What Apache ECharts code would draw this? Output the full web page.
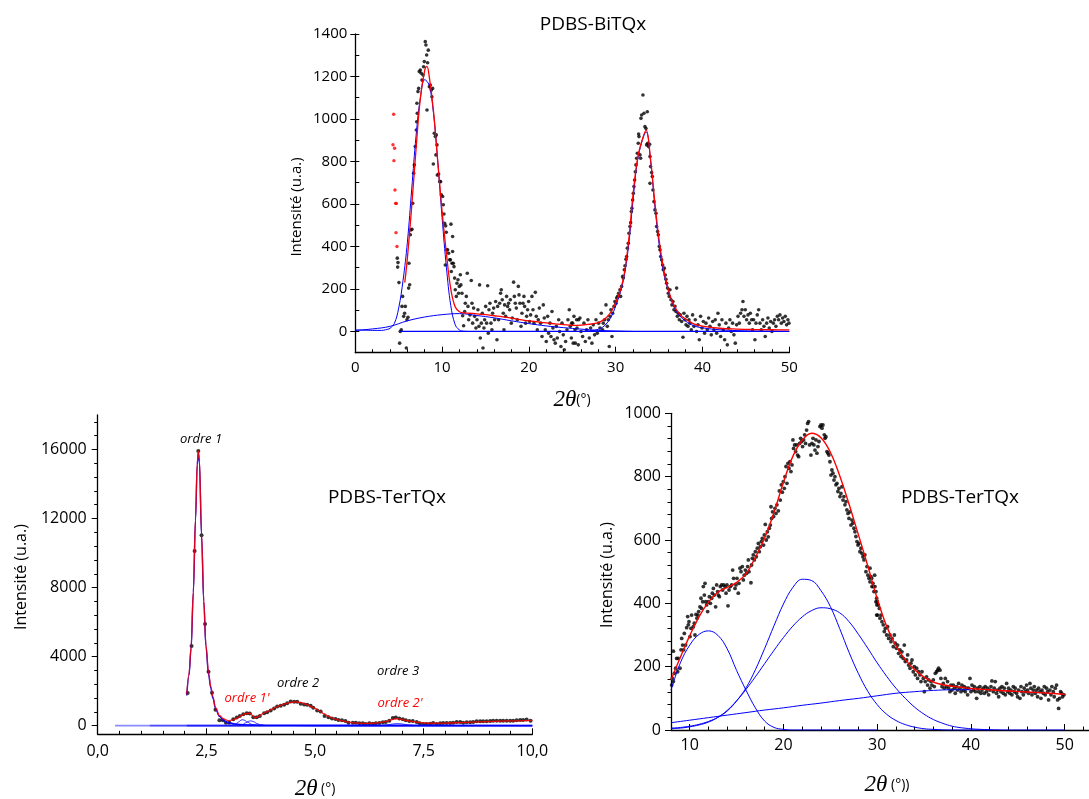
<!DOCTYPE html>
<html><head><meta charset="utf-8">
<script src="https://cdn.jsdelivr.net/npm/echarts@6/dist/echarts.min.js"></script>
<style>html,body{margin:0;padding:0;background:#fff}#c{width:1089px;height:799px}</style>
</head><body><div id="c"></div>
<script>
// ---------- Top panel: PDBS-BiTQx ----------
const biXTicks = [0, 10, 20, 30, 40, 50];
const biYTicks = [0, 200, 400, 600, 800, 1000, 1200, 1400];
const biRedPts = [[4.42,1022],[4.34,879],[4.53,862],[4.45,804],[4.57,666],[4.65,603],[4.72,602],[4.69,465],[4.80,400]];
const biPts = [[4.84,345],[4.92,324],[4.88,303],[5.03,230],[5.11,-55],[5.18,0],[5.30,8],[5.38,118],[5.45,165],[5.57,71],[5.68,86],[5.76,118],[5.88,-78],[5.95,55],[6.07,67],[6.14,204],[6.18,321],[6.26,220],[6.34,455],[6.41,478],[6.53,481],[6.61,603],[6.72,745],[6.80,784],[6.91,870],[7.03,948],[7.07,987],[7.14,1027],[7.10,1074],[7.22,1129],[7.30,1144],[7.37,1223],[7.49,1230],[7.60,1215],[7.68,1183],[7.80,1207],[7.87,1246],[7.95,1270],[8.06,1364],[8.14,1348],[8.22,1301],[8.33,1265],[8.41,1324],[8.26,1042],[8.53,1152],[8.64,1160],[8.76,1136],[8.83,1105],[8.91,1144],[8.99,788],[9.10,933],[9.22,917],[9.33,925],[9.41,878],[9.29,831],[9.45,736],[9.60,741],[9.72,705],[9.83,705],[9.91,643],[10.06,635],[10.14,596],[10.21,553],[10.29,509],[10.41,497],[10.48,467],[10.52,384],[10.64,384],[10.37,313],[10.75,368],[10.87,337],[10.95,337],[11.02,505],[11.21,447],[11.21,376],[11.14,321],[11.29,321],[11.06,282],[11.37,305],[11.44,251],[11.52,196],[11.64,165],[11.71,227],[11.83,243],[11.90,180],[11.98,212],[12.10,267],[12.17,219],[12.29,180],[12.37,74],[12.48,27],[12.60,94],[12.67,133],[12.79,165],[12.90,274],[12.98,118],[13.06,55],[13.21,78],[13.36,240],[13.44,133],[13.52,39],[13.63,110],[13.75,71],[13.90,16],[14.02,55],[14.13,102],[14.25,24],[14.32,219],[14.40,-31],[14.52,39],[14.63,86],[14.71,-78],[14.82,16],[14.90,55],[15.02,118],[15.13,39],[15.25,215],[15.32,-8],[15.40,102],[15.51,133],[15.63,39],[15.74,8],[15.82,86],[15.94,110],[16.05,55],[16.17,141],[16.32,-39],[16.40,118],[16.51,55],[16.63,133],[16.74,180],[16.82,196],[16.93,149],[17.05,86],[17.13,8],[17.20,125],[17.32,71],[17.43,165],[17.55,118],[17.66,133],[17.78,102],[17.86,149],[17.97,39],[18.09,63],[18.24,232],[18.32,165],[18.43,133],[18.55,110],[18.66,55],[18.78,212],[18.86,172],[18.97,133],[19.09,24],[19.20,86],[19.32,133],[19.43,165],[19.51,118],[19.62,39],[19.74,71],[19.85,102],[19.97,141],[20.08,47],[20.20,78],[20.35,165],[20.47,102],[20.58,39],[20.74,184],[20.85,71],[20.97,8],[21.08,55],[21.20,110],[21.35,39],[21.51,-24],[21.66,125],[21.77,63],[21.89,8],[22.00,-47],[22.16,71],[22.27,-8],[22.43,39],[22.54,-24],[22.66,94],[22.77,16],[22.89,-39],[23.04,-55],[23.16,24],[23.27,-31],[23.43,55],[23.54,0],[23.69,-71],[23.81,39],[23.96,-16],[24.08,-86],[24.23,-47],[24.39,8],[24.50,55],[24.65,102],[24.77,24],[24.89,-31],[25.04,39],[25.19,71],[25.35,-55],[25.54,16],[25.73,55],
[24.92,39],[25.11,-55],[25.31,8],[25.5,55],[25.69,-63],[25.88,63],[26.0,0],[26.19,-24],[26.34,39],[26.5,-47],[26.65,8],[26.8,55],[26.96,-31],[27.11,16],[27.26,-55],[27.42,31],[27.57,-16],[27.73,55],[27.88,-8],[28.03,39],[28.19,16],[28.34,86],[28.49,8],[28.57,39],[28.72,55],[28.88,125],[29.03,24],[29.15,55],[29.26,-71],[29.34,71],[29.45,102],[29.57,-24],[29.65,86],[29.8,118],[29.91,141],[30.03,133],[30.11,157],[30.22,165],[30.34,180],[30.49,196],[30.57,165],[30.68,212],[30.8,259],[30.87,251],[30.99,290],[31.07,309],[31.18,340],[31.26,353],[31.34,392],[31.45,415],[31.53,462],[31.64,494],[31.72,512],[31.8,564],[31.87,580],[31.95,619],[32.03,650],[32.1,682],[32.18,713],[32.26,752],[32.33,784],[32.41,815],[32.49,839],[32.6,886],[32.68,917],[32.64,929],[32.8,831],[32.87,815],[32.91,1003],[32.99,1019],[33.14,1113],[33.26,1027],[33.37,964],[33.49,955],[33.64,1034],[33.56,878],[33.68,886],[33.79,870],[33.91,881],[33.95,823],[34.02,776],[34.14,748],[34.22,729],[33.95,697],[34.29,666],[34.41,611],[34.52,572],[34.64,556],[34.71,494],[34.83,470],[34.91,455],[35.02,400],[35.1,384],[35.18,353],[35.29,337],[35.41,313],[35.48,290],[35.6,298],[35.71,266],[35.79,246],[35.87,227],[35.98,204],[36.06,180],[36.17,165],[36.25,196],[36.37,149],[36.48,125],[36.6,141],[36.71,102],[36.83,118],[36.94,94],[37.02,204],[37.1,71],[37.21,86],[37.33,55],[37.44,78],[37.6,47],[37.75,-27],[37.86,86],[37.98,55],[38.1,31],[38.21,71],[38.33,24],[38.44,55],[38.56,39],[38.71,8],[38.86,78],[39.02,24],[39.17,55],[39.32,0],[39.48,31],[39.63,-39],[39.78,71],[39.94,16],[40.09,47],[40.24,-8],[40.4,39],[40.55,8],[40.71,63],[40.86,24],[41.01,-16],[41.17,47],[41.32,8],[41.47,55],[41.63,-8],[41.78,86],[41.93,31],[42.09,-24],[42.24,55],[42.4,8],[42.55,-39],[42.7,39],[42.86,-63],[43.01,16],[43.16,55],[43.32,0],[43.47,39],[43.62,-16],[43.78,-55],[43.93,31],[44.09,71],[44.24,39],[44.39,86],[44.55,102],[44.66,141],[44.78,71],[44.93,102],[45.08,55],[45.24,78],[45.39,39],[45.51,86],[45.66,55],[45.77,8],[45.89,55],[46.04,-39],[46.16,39],[46.31,78],[46.47,102],[46.62,39],[46.77,8],[46.93,55],[47.08,24],[47.23,-24],[47.39,39],[47.54,63],[47.69,16],[47.85,47],[48.0,0],[48.16,39],[48.31,55],[48.46,24],[48.62,71],[48.77,55],[48.92,78],[49.08,39],[49.23,63],[49.38,47],[49.54,71],[49.69,31],[49.84,55],[49.96,39]];
const biFit = [[5.7,230],[6.0,345],[6.5,590],[7.0,860],[7.5,1100],[8.0,1230],[8.25,1248],[8.5,1205],[9.0,1040],[9.5,800],[10.0,565],[10.5,365],[11.0,200],[11.5,116],[12.0,93],[12.5,87],[13,86],[14,83],[15,79],[16,74],[17,69],[18,63],[19,56],[20,50],[21,45],[22,40],[23,36],[24,32],[25,29],[26,30],[27,34],[27.5,37],[28,42],[28.5,52],[29,68],[29.5,95],[30,135],[30.5,188],[31,275],[31.5,430],[32,645],[32.5,810],[33,895],[33.5,948],[34,815],[34.5,610],[35,430],[35.5,298],[36,205],[36.5,142],[37,102],[37.5,75],[38,60],[39,36],[40,25],[42,15],[44,11],[46,9],[48,8],[50,7]];
const biPeak1 = [[0,7],[1,6],[2,5],[3,5],[3.5,8],[4,15],[4.5,38],[5,110],[5.5,240],[6,420],[6.5,670],[7,920],[7.5,1100],[8,1185],[8.5,1160],[9,1030],[9.5,800],[10,535],[10.5,300],[11,122],[11.5,33],[12,7],[12.5,1],[13,0]];
const biBroad = [[0,5],[2,12],[4,24],[6,50],[8,68],[10,79],[12,84],[14,75],[16,64],[18,50],[20,37],[22,26],[24,18],[26,11],[28,5],[30,2],[32,0]];
const biPeak2 = [[26,0],[27,3],[28,10],[28.5,20],[29,40],[29.5,70],[30,120],[30.5,180],[31,265],[31.5,410],[32,620],[32.5,800],[33,890],[33.5,940],[34,810],[34.5,595],[35,410],[35.5,282],[36,200],[36.5,140],[37,95],[37.5,68],[38,50],[39,27],[40,17],[42,8],[44,4],[46,2],[50,0]];
const biZero = [[5.2,0],[50,0]];

// ---------- Bottom-left panel: PDBS-TerTQx (small angles) ----------
const tlXTicks = [0, 2.5, 5, 7.5, 10];
const tlYTicks = [0, 4000, 8000, 12000, 16000];
const tlPts = [[2.07,1890],[2.16,4613],[2.23,10120],[2.315,15920],[2.39,11030],[2.47,5890],[2.55,3130],[2.63,1910],[2.71,916],[2.80,312],[2.88,312],[2.95,175],[3.03,175],[3.12,370],[3.20,468],[3.27,565],[3.35,663],[3.43,721],[3.50,700],[3.58,487],[3.66,487],[3.73,565],[3.83,721],[3.90,780],[3.98,877],[4.06,994],[4.13,1111],[4.21,1150],[4.29,1208],[4.36,1306],[4.44,1403],[4.52,1384],[4.59,1384],[4.67,1267],[4.75,1228],[4.82,1208],[4.90,1150],[4.96,1033],[5.05,877],[5.13,818],[5.22,565],[5.31,487],[5.39,409],[5.47,390],[5.54,331],[5.62,312],[5.70,273],[5.77,175],[5.87,175],[5.94,175],[6.02,136],[6.10,136],[6.17,97],[6.25,136],[6.33,117],[6.40,136],[6.48,156],[6.56,195],[6.63,214],[6.71,292],[6.79,448],[6.86,468],[6.94,409],[7.02,370],[7.09,312],[7.17,273],[7.25,273],[7.34,214],[7.41,136],[7.49,97],[7.57,97],[7.65,117],[7.72,156],[7.80,97],[7.88,136],[7.95,156],[8.03,156],[8.11,156],[8.18,175],[8.26,214],[8.34,214],[8.41,175],[8.49,195],[8.57,195],[8.64,214],[8.72,253],[8.80,253],[8.87,253],[8.95,253],[9.03,273],[9.10,292],[9.18,292],[9.26,292],[9.33,292],[9.41,292],[9.49,292],[9.56,292],[9.64,312],[9.72,331],[9.79,331],[9.87,351],[9.96,292]];
const tlFit = [[2.05,1800],[2.1,3000],[2.15,4600],[2.2,7800],[2.25,12000],[2.29,15200],[2.315,15900],[2.34,15400],[2.39,11100],[2.44,7300],[2.49,4700],[2.55,3100],[2.6,2300],[2.65,1700],[2.71,1050],[2.8,600],[2.9,390],[3.0,290],[3.1,320],[3.2,430],[3.3,580],[3.4,690],[3.5,720],[3.56,600],[3.62,450],[3.7,540],[3.8,700],[3.9,820],[4.0,940],[4.1,1070],[4.2,1180],[4.3,1260],[4.4,1330],[4.5,1370],[4.6,1370],[4.7,1320],[4.8,1230],[4.9,1120],[5.0,1000],[5.1,860],[5.2,700],[5.3,560],[5.4,440],[5.5,360],[5.6,290],[5.7,240],[5.8,200],[5.9,165],[6.0,145],[6.2,130],[6.4,150],[6.6,220],[6.75,340],[6.87,410],[6.97,380],[7.1,300],[7.3,220],[7.5,160],[7.7,140],[8.0,150],[8.5,190],[9.0,240],[9.5,280],[10.0,310]];
const tlPeak = [[2.05,1750],[2.1,2900],[2.15,4500],[2.2,7700],[2.25,11900],[2.29,15100],[2.315,15800],[2.34,15300],[2.39,11000],[2.44,7200],[2.49,4600],[2.55,3000],[2.6,2200],[2.65,1600],[2.71,1000],[2.8,540],[2.9,300],[3.0,170],[3.2,80],[3.5,40],[4,20],[5,10],[10,0]];
const tlBump1 = [[3.05,0],[3.15,60],[3.22,170],[3.28,290],[3.32,350],[3.37,320],[3.45,200],[3.55,70],[3.65,10],[3.75,0]];
const tlBump2 = [[3.25,0],[3.33,60],[3.4,160],[3.47,250],[3.52,280],[3.58,240],[3.66,130],[3.75,40],[3.85,0]];
const tlBump3 = [[6.5,0],[6.65,40],[6.8,100],[6.9,120],[7.0,100],[7.15,40],[7.3,0]];
const tlBaseA = [[0.4,0],[10,0]];
const tlBaseB = [[1.2,0],[10,0]];
const tlBaseC = [[2.05,0],[10,0]];

// ---------- Bottom-right panel: PDBS-TerTQx (wide angles) ----------
const trXTicks = [10, 20, 30, 40, 50];
const trYTicks = [0, 200, 400, 600, 800, 1000];
const trPts = [[8.07,142],[8.14,163],[8.25,153],[8.36,179],[8.25,249],[8.5,195],[8.6,226],[8.71,184],[8.78,226],[8.96,195],[9.07,253],[9.14,289],[9.24,268],[9.35,253],[9.42,305],[9.56,268],[9.67,323],[9.78,358],[9.85,332],[9.92,342],[10.03,295],[10.13,321],[10.2,363],[10.38,326],[10.49,337],[10.56,300],[10.67,365],[10.77,353],[10.88,363],[10.95,374],[11.09,389],[11.2,416],[11.27,384],[11.38,405],[11.45,453],[11.56,426],[11.63,463],[11.7,405],[11.8,395],[11.91,374],[11.98,405],[12.09,421],[12.2,400],[12.34,416],[12.41,432],[12.52,447],[12.62,426],[12.76,389],[12.87,458],[12.98,437],[13.05,426],[13.16,421],[13.26,453],[13.4,458],[13.51,442],[13.62,458],[13.76,453],[13.87,432],[13.97,458],[14.08,392],[14.19,442],[14.33,453],[14.47,458],[14.58,505],[14.68,479],[14.83,447],[14.93,458],[15.04,479],[15.18,432],[15.25,463],[15.36,511],[15.47,500],[15.61,516],[15.72,474],[15.82,489],[15.93,505],[16.07,495],[16.18,516],[16.25,537],[16.32,500],[16.53,465],[16.6,521],[16.68,542],[16.78,553],[16.89,537],[17.0,563],[17.1,547],[17.21,574],[17.32,589],[17.42,563],[17.53,579],[17.64,595],[17.74,605],[17.88,584],[17.96,616],[18.06,649],[18.17,600],[18.28,626],[18.38,610],[18.49,637],[18.6,647],[18.67,705],[18.74,668],[18.84,689],[18.95,674],[19.09,700],[19.2,684],[19.3,711],[19.45,692],[19.56,755],[19.66,726],[19.77,774],[19.88,751],[19.98,784],[20.09,763],[20.16,800],[20.27,832],[20.37,779],[20.48,842],[20.59,826],[20.69,847],[20.8,816],[20.91,837],[21.01,916],[21.08,889],[21.19,900],[21.3,879],[21.4,900],[21.51,868],[21.62,863],[21.72,905],[21.83,921],[21.94,911],[22.04,895],[22.15,916],[22.26,932],[22.36,905],[22.47,947],[22.58,968],[22.68,974],[22.79,900],[22.93,868],[23.04,905],[23.15,921],[23.25,900],[23.36,884],[23.47,916],[23.57,874],[23.68,895],[23.79,911],[23.89,958],[24.0,963],[24.11,953],[24.21,963],[24.36,932],[24.43,921],[24.53,926],[24.64,879],[24.75,874],[24.85,868],[24.96,847],[25.07,805],[25.17,821],[25.28,811],[25.39,789],[25.49,800],[25.6,774],[25.71,779],[25.81,753],[25.92,763],[26.03,737],[26.13,747],[26.24,768],[26.35,726],[26.45,737],[26.56,711],[26.67,721],[26.77,695],[26.88,684],[26.99,668],[27.09,689],[27.2,647],[27.31,663],[27.41,653],[27.52,637],[27.63,626],[27.73,611],[27.84,595],[27.95,584],[28.05,589],[28.16,563],[28.27,574],[28.37,558],[28.48,547],[28.59,537],[28.69,553],[28.8,500],[28.91,516],[29.01,489],[29.12,479],[29.23,468],[29.33,484],[29.44,453],[29.55,463],[29.65,437],[29.76,453],[29.87,405],[29.97,395],[30.04,363],
[29.23,511],[29.41,479],[29.59,453],[29.73,489],[29.87,437],[29.94,416],[30.01,405],[30.12,395],[30.23,384],[29.94,363],[30.3,353],[30.4,363],[30.51,342],[30.65,332],[30.76,311],[30.87,321],[31.01,300],[31.11,326],[31.22,289],[31.36,300],[31.47,279],[31.58,289],[31.72,263],[31.83,300],[31.93,274],[32.07,258],[32.18,268],[32.29,242],[32.43,253],[32.54,232],[32.64,247],[32.79,226],[32.89,268],[33.0,216],[33.14,221],[33.25,237],[33.35,205],[33.5,195],[33.6,211],[33.71,221],[33.85,184],[33.96,200],[34.07,174],[34.21,195],[34.31,163],[34.42,184],[34.56,174],[34.67,153],[34.78,184],[34.92,163],[35.03,121],[35.13,153],[35.27,168],[35.38,142],[35.49,158],[35.63,132],[35.74,153],[35.84,142],[35.99,158],[36.09,137],[36.2,179],[36.34,184],[36.45,189],[36.55,195],[36.7,189],[36.8,163],[36.91,137],[37.05,147],[37.16,132],[37.27,163],[37.41,137],[37.51,153],[37.62,132],[37.76,121],[37.87,142],[37.98,126],[38.12,142],[38.23,132],[38.33,116],[38.47,137],[38.58,126],[38.69,147],[38.83,132],[38.94,121],[39.04,142],[39.19,126],[39.29,137],[39.4,121],[39.54,132],[39.65,111],[39.75,132],[39.9,163],[40.0,121],[40.11,142],[40.25,126],[40.36,137],[40.47,121],[40.61,100],[40.71,132],[40.82,121],[40.96,137],[41.07,116],[41.18,126],[41.32,132],[41.43,116],[41.53,137],[41.68,121],[41.78,132],[41.89,111],[42.03,126],[42.14,137],[42.24,155],[42.39,121],[42.49,132],[42.6,153],[42.74,116],[42.85,126],[42.96,105],[43.1,132],[43.2,121],[43.31,137],[43.45,116],[43.56,132],[43.67,111],[43.81,147],[43.91,121],[44.02,132],[44.16,116],[44.27,126],[44.38,111],[44.52,137],[44.63,121],[44.73,132],[44.87,116],[44.98,105],[45.09,126],[45.23,100],[45.34,137],[45.44,121],[45.59,111],[45.69,132],[45.8,121],[45.94,142],[46.05,126],[46.15,116],[46.3,147],[46.4,132],[46.51,111],[46.65,126],[46.76,137],[46.87,116],[47.01,126],[47.11,105],[47.22,132],[47.36,121],[47.47,100],[47.58,126],[47.72,116],[47.83,137],[47.93,111],[48.07,132],[48.18,121],[48.29,95],[48.43,126],[48.54,111],[48.64,137],[48.79,121],[48.89,105],[49.0,132],[49.14,142],[49.25,95],[49.36,68],[49.46,100],[49.57,121],[49.68,116],[49.78,105],[49.93,111]];
const trFit = [[8,158],[9,230],[10,298],[11,358],[12,404],[13,435],[14,450],[15,466],[16,493],[17,545],[18,607],[19,688],[20,782],[21,864],[22,915],[23,937],[24,923],[25,877],[26,803],[27,713],[28,616],[29,518],[30,415],[31,328],[32,266],[33,222],[34,190],[35,167],[36,151],[37,143],[38,138],[39,135],[40,131],[42,127],[44,123],[46,120],[48,117],[50,113]];
const trG1 = [[8,126],[9,212],[10,268],[11,302],[12,313],[13,299],[14,256],[15,188],[16,126],[17,70],[18,28],[19,8],[20,2],[21,0],[22,0],[30,0]];
const trG2 = [[8,6],[9,8],[10,12],[11,18],[12,27],[13,40],[14,60],[15,92],[16,133],[17,190],[18,258],[19,330],[20,398],[21,450],[22,476],[23,472],[24,440],[25,390],[26,320],[27,245],[28,178],[29,122],[30,80],[31,50],[32,30],[33,17],[34,9],[35,4],[36,2],[38,0],[42,0]];
const trG3 = [[8,4],[9,6],[10,10],[11,16],[12,25],[13,40],[14,62],[15,92],[16,128],[17,168],[18,210],[19,252],[20,292],[21,328],[22,357],[23,377],[24,386],[25,383],[26,370],[27,342],[28,302],[29,258],[30,212],[31,170],[32,132],[33,100],[34,72],[35,50],[36,33],[37,21],[38,12],[39,7],[40,4],[41,2],[42,1],[44,0],[50,0]];
const trBase = [[8,23],[10,31],[12,39],[14,47],[16,55],[18,63],[20,70],[22,78],[24,85],[26,93],[28,100],[30,108],[32,116],[34,121],[36,125],[38,127],[40,127]];

// ---------- chart ----------
const FONT = "'Open Sans', 'Noto Sans', sans-serif";
const BLACK = '#000';
const BLUE = '#0000ff';
const RED = '#ff0000';
const lineAx = { onZero: false, lineStyle: { color: BLACK, width: 1.3 } };
const noSplit = { show: false };
const plain = v => String(v);

function range(a, b, s) { const r = []; for (let v = a; v <= b + 1e-9; v += s) r.push(+v.toFixed(6)); return r; }

const chart = echarts.init(document.getElementById('c'), null, { renderer: 'canvas' });

function lineSeries(data, xi, color, width, extra) {
  return Object.assign({
    type: 'line', xAxisIndex: xi, yAxisIndex: xi, data: data,
    showSymbol: false, symbol: 'none', smooth: 0.4,
    lineStyle: { color: color, width: width }, silent: true, z: 3
  }, extra || {});
}
function scatterSeries(data, xi, color, size) {
  return { type: 'scatter', xAxisIndex: xi, yAxisIndex: xi, data: data, symbolSize: size,
    itemStyle: { color: color }, silent: true, z: 2 };
}
const sharp = { smooth: 0.35, smoothMonotone: 'x' };

const option = {
  animation: false,
  backgroundColor: '#fff',
  grid: [
    { left: 355.3, top: 34, width: 434, height: 318.7 },
    { left: 97.7, top: 415, width: 434.6, height: 319.3 },
    { left: 671, top: 413.3, width: 418.1, height: 316.7 }
  ],
  xAxis: [
    { gridIndex: 0, type: 'value', position: 'bottom', min: 0, max: 50,
      axisLine: lineAx, splitLine: noSplit,
      axisTick: { inside: true, length: 6, customValues: biXTicks, lineStyle: { color: BLACK } },
      axisLabel: { customValues: biXTicks, color: BLACK, fontSize: 15, fontFamily: FONT, margin: 8, formatter: plain } },
    { gridIndex: 1, type: 'value', position: 'bottom', min: 0, max: 10,
      axisLine: lineAx, splitLine: noSplit,
      axisTick: { inside: true, length: 6, customValues: tlXTicks, lineStyle: { color: BLACK } },
      axisLabel: { customValues: tlXTicks, color: BLACK, fontSize: 16, fontFamily: FONT, margin: 9,
        formatter: v => v.toFixed(1).replace('.', ',') } },
    { gridIndex: 2, type: 'value', position: 'bottom', min: 8, max: 52.6,
      axisLine: lineAx, splitLine: noSplit,
      axisTick: { inside: true, length: 6, customValues: trXTicks, lineStyle: { color: BLACK } },
      axisLabel: { customValues: trXTicks, color: BLACK, fontSize: 16, fontFamily: FONT, margin: 7, formatter: plain } },
    { gridIndex: 0, type: 'value', position: 'bottom', min: 0, max: 50, axisLine: { show: false, onZero: false },
      splitLine: noSplit, axisLabel: { show: false },
      axisTick: { show: true, inside: true, length: 3.5, customValues: range(0, 50, 2), lineStyle: { color: BLACK } } },
    { gridIndex: 1, type: 'value', position: 'bottom', min: 0, max: 10, axisLine: { show: false, onZero: false },
      splitLine: noSplit, axisLabel: { show: false },
      axisTick: { show: true, inside: true, length: 3.5, customValues: range(0, 10, 0.5), lineStyle: { color: BLACK } } },
    { gridIndex: 2, type: 'value', position: 'bottom', min: 8, max: 52.6, axisLine: { show: false, onZero: false },
      splitLine: noSplit, axisLabel: { show: false },
      axisTick: { show: true, inside: true, length: 3.5, customValues: range(8, 52, 2), lineStyle: { color: BLACK } } }
  ],
  yAxis: [
    { gridIndex: 0, type: 'value', position: 'left', min: -100, max: 1400,
      axisLine: lineAx, splitLine: noSplit,
      axisTick: { inside: false, length: 5, customValues: biYTicks, lineStyle: { color: BLACK } },
      axisLabel: { customValues: biYTicks, color: BLACK, fontSize: 15, fontFamily: FONT, margin: 8, formatter: plain } },
    { gridIndex: 1, type: 'value', position: 'left', min: -500, max: 18000,
      axisLine: lineAx, splitLine: noSplit,
      axisTick: { inside: false, length: 6, customValues: tlYTicks, lineStyle: { color: BLACK } },
      axisLabel: { customValues: tlYTicks, color: BLACK, fontSize: 16, fontFamily: FONT, margin: 11, formatter: plain } },
    { gridIndex: 2, type: 'value', position: 'left', min: 0, max: 1000,
      axisLine: lineAx, splitLine: noSplit,
      axisTick: { inside: false, length: 6, customValues: trYTicks, lineStyle: { color: BLACK } },
      axisLabel: { customValues: trYTicks, color: BLACK, fontSize: 16, fontFamily: FONT, margin: 10, formatter: plain } },
    { gridIndex: 0, type: 'value', position: 'left', min: -100, max: 1400, axisLine: { show: false, onZero: false },
      splitLine: noSplit, axisLabel: { show: false },
      axisTick: { show: true, inside: true, length: 4, customValues: range(-100, 1400, 100), lineStyle: { color: BLACK } } },
    { gridIndex: 1, type: 'value', position: 'left', min: -500, max: 18000, axisLine: { show: false, onZero: false },
      splitLine: noSplit, axisLabel: { show: false },
      axisTick: { show: true, inside: false, length: 3.5, customValues: range(0, 17600, 800), lineStyle: { color: BLACK } } },
    { gridIndex: 2, type: 'value', position: 'left', min: 0, max: 1000, axisLine: { show: false, onZero: false },
      splitLine: noSplit, axisLabel: { show: false },
      axisTick: { show: true, inside: false, length: 3.5, customValues: range(0, 1000, 40), lineStyle: { color: BLACK } } }
  ],
  series: [
    // top
    scatterSeries(biPts, 0, BLACK, 3.6),
    scatterSeries(biRedPts, 0, RED, 3.4),
    lineSeries(biZero, 0, BLUE, 1.2, { smooth: false }),
    lineSeries(biBroad, 0, BLUE, 1),
    lineSeries(biPeak1, 0, BLUE, 1),
    lineSeries(biPeak2, 0, BLUE, 1),
    lineSeries(biFit, 0, RED, 1.3, { z: 4 }),
    // bottom-left
    scatterSeries(tlPts, 1, BLACK, 4),
    lineSeries(tlBaseA, 1, BLUE, 1.8, { smooth: false, lineStyle: { color: BLUE, width: 1.8, opacity: 0.45 } }),
    lineSeries(tlBaseB, 1, BLUE, 1.8, { smooth: false, lineStyle: { color: BLUE, width: 1.8, opacity: 0.45 } }),
    lineSeries(tlBaseC, 1, BLUE, 1.8, { smooth: false, lineStyle: { color: BLUE, width: 1.8, opacity: 0.6 } }),
    lineSeries(tlBump1, 1, BLUE, 0.8, sharp),
    lineSeries(tlBump2, 1, BLUE, 0.8, sharp),
    lineSeries(tlBump3, 1, BLUE, 0.8, sharp),
    lineSeries(tlPeak, 1, BLUE, 1.4, sharp),
    lineSeries(tlFit, 1, RED, 1.3, Object.assign({ z: 4, lineStyle: { color: RED, width: 1.3, opacity: 0.85 } }, sharp)),
    // bottom-right
    scatterSeries(trPts, 2, BLACK, 3.8),
    lineSeries(trG1, 2, BLUE, 1),
    lineSeries(trG2, 2, BLUE, 1),
    lineSeries(trG3, 2, BLUE, 1),
    lineSeries(trBase, 2, BLUE, 1),
    lineSeries(trFit, 2, RED, 1.4, { z: 4 })
  ],
  graphic: [
    { type: 'text', x: 593, y: 25, style: { text: 'PDBS-BiTQx', fill: BLACK, font: "19px 'Open Sans'", textAlign: 'center', textVerticalAlign: 'middle', align: 'center', verticalAlign: 'middle' } },
    { type: 'text', x: 297, y: 207, rotation: Math.PI / 2, style: { text: 'Intensité (u.a.)', fill: BLACK, font: "15px 'Open Sans'", textAlign: 'center', textVerticalAlign: 'middle', align: 'center', verticalAlign: 'middle' } },
    { type: 'text', x: 572, y: 400, style: { text: '{a|2θ}{b|(°)}', textAlign: 'center', textVerticalAlign: 'middle', align: 'center', verticalAlign: 'middle',
      rich: { a: { font: "italic 23px 'Liberation Serif'", fill: BLACK, fontStyle: 'italic', fontSize: 23, fontFamily: 'Liberation Serif', color: BLACK },
              b: { font: "14px 'Open Sans'", fill: BLACK, fontSize: 14, fontFamily: 'Open Sans', color: BLACK } } } },

    { type: 'text', x: 387, y: 498, style: { text: 'PDBS-TerTQx', fill: BLACK, font: "19px 'Open Sans'", textAlign: 'center', textVerticalAlign: 'middle', align: 'center', verticalAlign: 'middle' } },
    { type: 'text', x: 21, y: 577, rotation: Math.PI / 2, style: { text: 'Intensité (u.a.)', fill: BLACK, font: "16px 'Open Sans'", textAlign: 'center', textVerticalAlign: 'middle', align: 'center', verticalAlign: 'middle' } },
    { type: 'text', x: 315, y: 789, style: { text: '{a|2θ}{b| (°)}', textAlign: 'center', textVerticalAlign: 'middle', align: 'center', verticalAlign: 'middle',
      rich: { a: { font: "italic 23px 'Liberation Serif'", fill: BLACK, fontStyle: 'italic', fontSize: 23, fontFamily: 'Liberation Serif', color: BLACK },
              b: { font: "14px 'Open Sans'", fill: BLACK, fontSize: 14, fontFamily: 'Open Sans', color: BLACK } } } },
    { type: 'text', x: 201, y: 439, style: { text: 'ordre 1', fill: BLACK, font: "italic 13px 'Open Sans'", textAlign: 'center', textVerticalAlign: 'middle', align: 'center', verticalAlign: 'middle' } },
    { type: 'text', x: 247, y: 698, style: { text: "ordre 1'", fill: RED, font: "italic 13px 'Open Sans'", textAlign: 'center', textVerticalAlign: 'middle', align: 'center', verticalAlign: 'middle' } },
    { type: 'text', x: 298, y: 683, style: { text: 'ordre 2', fill: BLACK, font: "italic 13px 'Open Sans'", textAlign: 'center', textVerticalAlign: 'middle', align: 'center', verticalAlign: 'middle' } },
    { type: 'text', x: 398, y: 671, style: { text: 'ordre 3', fill: BLACK, font: "italic 13px 'Open Sans'", textAlign: 'center', textVerticalAlign: 'middle', align: 'center', verticalAlign: 'middle' } },
    { type: 'text', x: 400, y: 703, style: { text: "ordre 2'", fill: RED, font: "italic 13px 'Open Sans'", textAlign: 'center', textVerticalAlign: 'middle', align: 'center', verticalAlign: 'middle' } },

    { type: 'text', x: 960, y: 498, style: { text: 'PDBS-TerTQx', fill: BLACK, font: "19px 'Open Sans'", textAlign: 'center', textVerticalAlign: 'middle', align: 'center', verticalAlign: 'middle' } },
    { type: 'text', x: 607, y: 575, rotation: Math.PI / 2, style: { text: 'Intensité (u.a.)', fill: BLACK, font: "16px 'Open Sans'", textAlign: 'center', textVerticalAlign: 'middle', align: 'center', verticalAlign: 'middle' } },
    { type: 'text', x: 887, y: 785, style: { text: '{a|2θ}{b| (°))}', textAlign: 'center', textVerticalAlign: 'middle', align: 'center', verticalAlign: 'middle',
      rich: { a: { font: "italic 23px 'Liberation Serif'", fill: BLACK, fontStyle: 'italic', fontSize: 23, fontFamily: 'Liberation Serif', color: BLACK },
              b: { font: "14px 'Open Sans'", fill: BLACK, fontSize: 14, fontFamily: 'Open Sans', color: BLACK } } } }
  ]
};
chart.setOption(option);
</script></body></html>
